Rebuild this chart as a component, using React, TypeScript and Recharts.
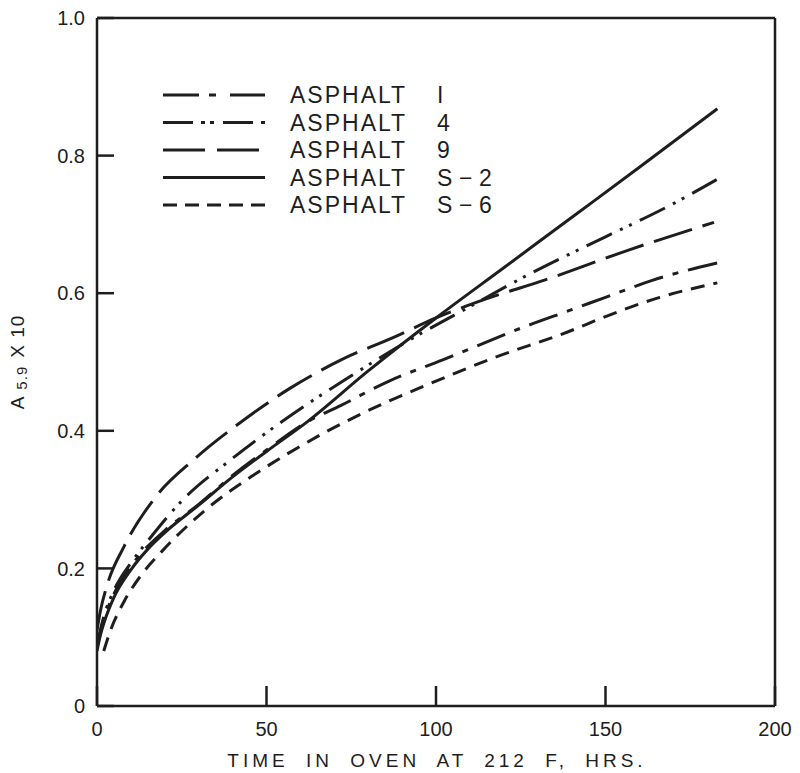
import React from "react";
import { LineChart, Line, XAxis, YAxis, ReferenceLine } from "recharts";

const X_TICKS = [0, 50, 100, 150, 200];
const Y_TICKS = [0, 0.2, 0.4, 0.6, 0.8, 1.0];

// values (time in hrs, A5.9 x 10)
const ASPHALT_1 = [
  { x: 0, y: 0.085 }, { x: 2, y: 0.125 }, { x: 5, y: 0.163 }, { x: 10, y: 0.203 },
  { x: 20, y: 0.255 }, { x: 30, y: 0.293 }, { x: 40, y: 0.335 }, { x: 50, y: 0.372 },
  { x: 62, y: 0.413 }, { x: 72, y: 0.437 }, { x: 86, y: 0.472 }, { x: 102, y: 0.503 },
  { x: 126, y: 0.551 }, { x: 140, y: 0.576 }, { x: 150, y: 0.594 }, { x: 164, y: 0.619 },
  { x: 183, y: 0.644 },
];
const ASPHALT_4 = [
  { x: 0, y: 0.09 }, { x: 2, y: 0.13 }, { x: 5, y: 0.168 }, { x: 10, y: 0.208 },
  { x: 15, y: 0.24 }, { x: 25, y: 0.298 }, { x: 40, y: 0.36 }, { x: 55, y: 0.415 },
  { x: 75, y: 0.48 }, { x: 95, y: 0.54 }, { x: 105, y: 0.567 }, { x: 130, y: 0.634 },
  { x: 150, y: 0.682 }, { x: 168, y: 0.725 }, { x: 183.5, y: 0.767 },
];
const ASPHALT_9 = [
  { x: 0, y: 0.11 }, { x: 1, y: 0.138 }, { x: 3, y: 0.176 }, { x: 8, y: 0.232 },
  { x: 17, y: 0.302 }, { x: 29, y: 0.36 }, { x: 42, y: 0.411 }, { x: 57, y: 0.462 },
  { x: 72, y: 0.503 }, { x: 88, y: 0.537 }, { x: 100, y: 0.564 }, { x: 115, y: 0.592 },
  { x: 132, y: 0.619 }, { x: 157, y: 0.663 }, { x: 182, y: 0.703 },
];
const ASPHALT_S2 = [
  { x: 0, y: 0.08 }, { x: 1, y: 0.103 }, { x: 2, y: 0.12 }, { x: 5, y: 0.158 },
  { x: 10, y: 0.198 }, { x: 15, y: 0.228 }, { x: 20, y: 0.252 }, { x: 30, y: 0.292 },
  { x: 40, y: 0.333 }, { x: 50, y: 0.37 }, { x: 62, y: 0.413 }, { x: 80, y: 0.487 },
  { x: 100, y: 0.564 }, { x: 120, y: 0.637 }, { x: 140, y: 0.71 }, { x: 160, y: 0.783 },
  { x: 183, y: 0.868 },
];
const ASPHALT_S6 = [
  { x: 2, y: 0.08 }, { x: 4, y: 0.11 }, { x: 8, y: 0.152 }, { x: 13, y: 0.19 },
  { x: 19, y: 0.224 }, { x: 32, y: 0.285 }, { x: 46, y: 0.335 }, { x: 56, y: 0.366 },
  { x: 67, y: 0.397 }, { x: 86, y: 0.443 }, { x: 97, y: 0.466 }, { x: 117, y: 0.506 },
  { x: 139, y: 0.544 }, { x: 150, y: 0.566 }, { x: 166, y: 0.594 }, { x: 183, y: 0.615 },
];

const INK = "#1e1e1e";
const FONT = "'Liberation Sans', Arial, sans-serif";

const SERIES = [
  { name: "I", data: ASPHALT_1, dash: "30 10 6 10", legendDash: "36 10 7 14" },
  { name: "4", data: ASPHALT_4, dash: "28 9 3 7 3 9", legendDash: "30 8 4 5 4 9" },
  { name: "9", data: ASPHALT_9, dash: "40 11", legendDash: "42 12" },
  { name: "S\u2009\u2212\u20092", data: ASPHALT_S2, dash: undefined, legendDash: undefined },
  { name: "S\u2009\u2212\u20096", data: ASPHALT_S6, dash: "14 9", legendDash: "14 8" },
];

function YLabel() {
  return (
    <text
      transform="translate(24, 362) rotate(-90)"
      textAnchor="middle"
      fontFamily={FONT}
      fontSize={19}
      fill={INK}
      letterSpacing={1}
    >
      A
      <tspan fontSize={15} dx={6} dy={3}>5.9</tspan>
      <tspan dx={8} dy={-3}>X 10</tspan>
    </text>
  );
}

function XLabel() {
  return (
    <text
      x={437}
      y={767}
      textAnchor="middle"
      fontFamily={FONT}
      fontSize={19}
      fill={INK}
      letterSpacing={4}
      wordSpacing={8}
    >
      TIME IN OVEN AT 212 F, HRS.
    </text>
  );
}

function LegendBox() {
  return (
    <svg
      width={420}
      height={140}
      style={{ position: "absolute", left: 150, top: 80 }}
    >
      {SERIES.map((s, i) => {
        const cy = 15 + i * 27.5;
        return (
          <g key={s.name}>
            <line
              x1={13}
              x2={115}
              y1={cy}
              y2={cy}
              stroke={INK}
              strokeWidth={3.2}
              strokeDasharray={s.legendDash}
            />
            <text x={140} y={cy + 8} fontFamily={FONT} fontSize={23} fill={INK} letterSpacing={2}>
              ASPHALT
            </text>
            <text x={287} y={cy + 8} fontFamily={FONT} fontSize={23} fill={INK} letterSpacing={1}>
              {s.name}
            </text>
          </g>
        );
      })}
    </svg>
  );
}

export default function App() {
  return (
    <div style={{ position: "absolute", left: 0, top: 0, width: 800, height: 773, background: "#fff" }}>
      <LineChart width={800} height={773} margin={{ top: 18, right: 25, left: 37, bottom: 27 }}>
        <XAxis
          dataKey="x"
          type="number"
          domain={[0, 200]}
          ticks={X_TICKS}
          allowDataOverflow
          height={40}
          stroke={INK}
          strokeWidth={2.5}
          tickSize={-20}
          tickMargin={36}
          tick={{ fontSize: 20, fill: INK, fontFamily: FONT }}
          label={<XLabel />}
        />
        <YAxis
          type="number"
          domain={[0, 1]}
          ticks={Y_TICKS}
          allowDataOverflow
          width={60}
          stroke={INK}
          strokeWidth={2.5}
          tickSize={-17}
          tickMargin={29}
          tickFormatter={(v: number) => (v === 0 ? "0" : v.toFixed(1))}
          tick={{ fontSize: 20, fill: INK, fontFamily: FONT }}
          label={<YLabel />}
        />
        <ReferenceLine y={1} stroke={INK} strokeWidth={2.5} />
        <ReferenceLine x={200} stroke={INK} strokeWidth={2.5} />
        {SERIES.map((s) => (
          <Line
            key={s.name}
            data={s.data}
            dataKey="y"
            type="monotone"
            stroke={INK}
            strokeWidth={3}
            strokeDasharray={s.dash}
            dot={false}
            activeDot={false}
            isAnimationActive={false}
          />
        ))}
      </LineChart>
      <LegendBox />
    </div>
  );
}
